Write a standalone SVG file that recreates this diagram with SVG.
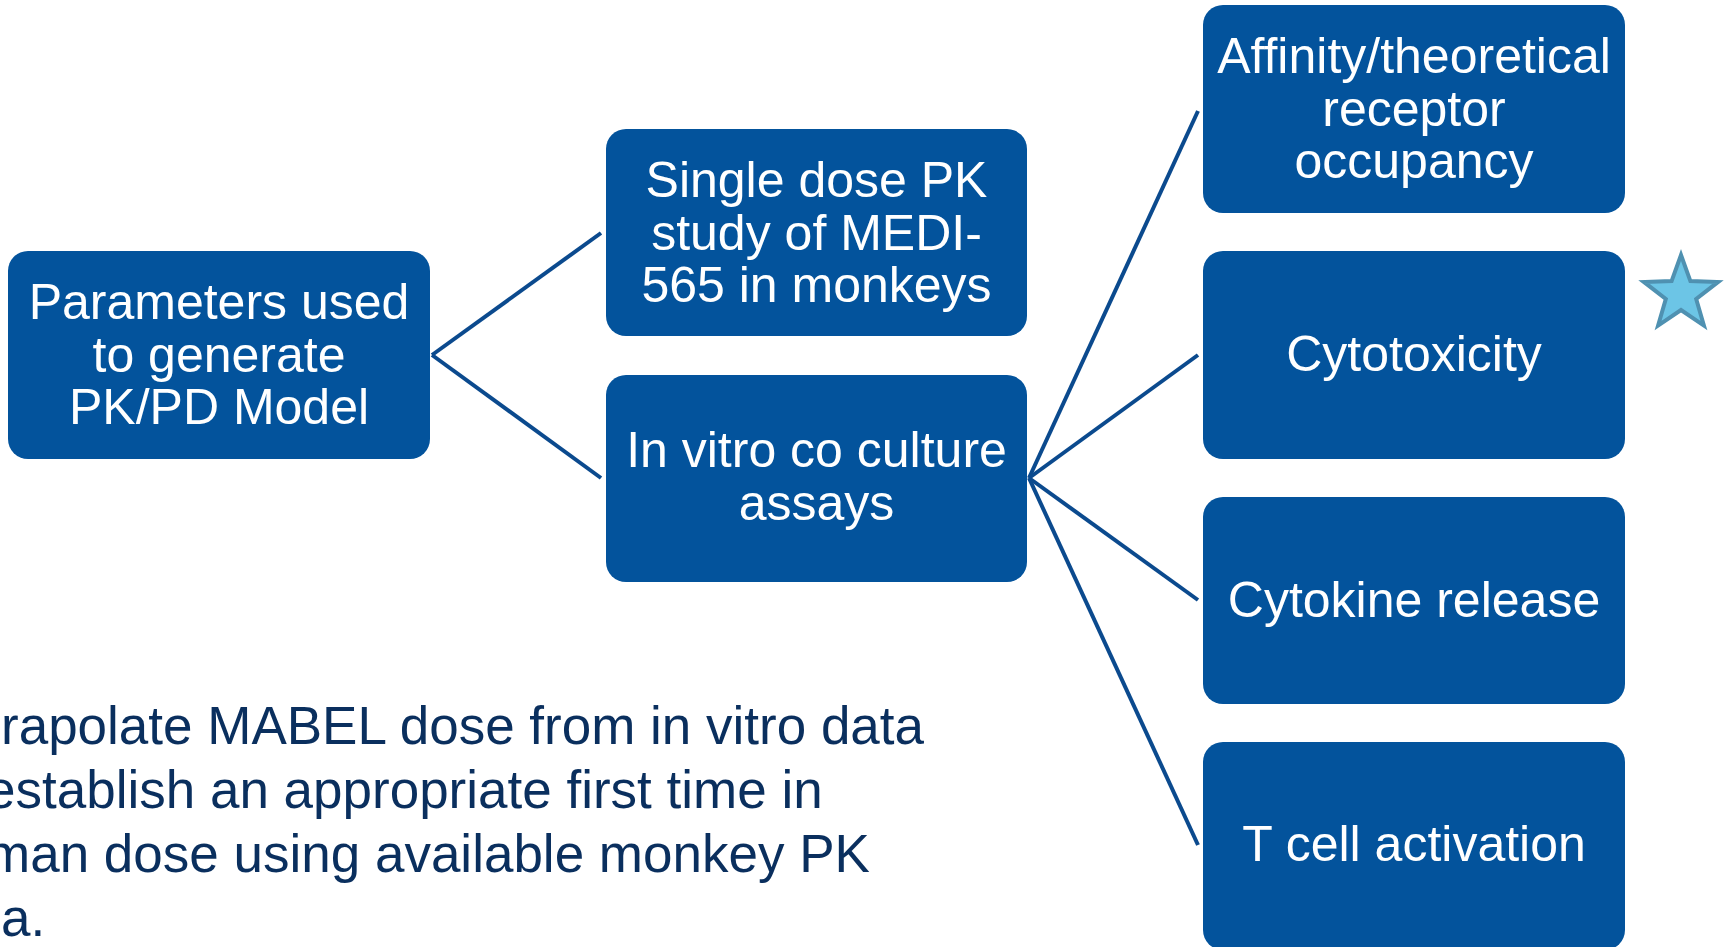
<svg xmlns="http://www.w3.org/2000/svg" width="1729" height="947" viewBox="0 0 1729 947">
  <style>
    .box { fill: #03539c; }
    .lbl { font-family: "Liberation Sans", Arial, sans-serif; font-size: 50px; fill: #ffffff; text-anchor: middle; }
    .conn { stroke: #0b4a8e; stroke-width: 4; fill: none; stroke-linecap: butt; }
    .note { font-family: "Liberation Sans", Arial, sans-serif; font-size: 53px; fill: #0a2f5e; }
  </style>
  <rect width="1729" height="947" fill="#ffffff"/>
  <g id="connectors">
    <line class="conn" x1="432" y1="355" x2="601" y2="233"/>
    <line class="conn" x1="432" y1="355" x2="601" y2="478"/>
    <line class="conn" x1="1029" y1="478" x2="1198" y2="111"/>
    <line class="conn" x1="1029" y1="478" x2="1198" y2="355"/>
    <line class="conn" x1="1029" y1="478" x2="1198" y2="600"/>
    <line class="conn" x1="1029" y1="478" x2="1198" y2="845"/>
  </g>
  <g id="node-params">
    <rect class="box" x="8" y="251" width="422" height="208" rx="20"/>
    <text class="lbl"><tspan x="219" y="319">Parameters used</tspan><tspan x="219" y="372">to generate</tspan><tspan x="219" y="424">PK/PD Model</tspan></text>
  </g>
  <g id="node-singledose">
    <rect class="box" x="606" y="129" width="421" height="207" rx="20"/>
    <text class="lbl"><tspan x="816.5" y="197">Single dose PK</tspan><tspan x="816.5" y="249.5">study of MEDI-</tspan><tspan x="816.5" y="302">565 in monkeys</tspan></text>
  </g>
  <g id="node-invitro">
    <rect class="box" x="606" y="375" width="421" height="207" rx="20"/>
    <text class="lbl"><tspan x="816.5" y="467">In vitro co culture</tspan><tspan x="816.5" y="520">assays</tspan></text>
  </g>
  <g id="node-affinity">
    <rect class="box" x="1203" y="5" width="422" height="208" rx="20"/>
    <text class="lbl"><tspan x="1414" y="73">Affinity/theoretical</tspan><tspan x="1414" y="125.5">receptor</tspan><tspan x="1414" y="178">occupancy</tspan></text>
  </g>
  <g id="node-cytotoxicity">
    <rect class="box" x="1203" y="251" width="422" height="208" rx="20"/>
    <text class="lbl" x="1414" y="371">Cytotoxicity</text>
  </g>
  <g id="node-cytokine">
    <rect class="box" x="1203" y="497" width="422" height="207" rx="20"/>
    <text class="lbl" x="1414" y="617">Cytokine release</text>
  </g>
  <g id="node-tcell">
    <rect class="box" x="1203" y="742" width="422" height="208" rx="20"/>
    <text class="lbl" x="1414" y="861">T cell activation</text>
  </g>
  <g id="star">
    <polygon points="1681,255 1690.4,281.06 1718.1,281.95 1696.2,298.94 1703.9,325.55 1681,310 1658.1,325.55 1665.8,298.94 1643.9,281.95 1671.6,281.06" fill="#6cc5e6" stroke="#4f91b1" stroke-width="4" stroke-linejoin="miter"/>
  </g>
  <g id="note">
    <text class="note"><tspan x="1" y="744">rapolate MABEL dose from in vitro data</tspan><tspan x="-14" y="808">establish an appropriate first time in</tspan><tspan x="-14" y="872">man dose using available monkey PK</tspan><tspan x="1" y="936">a.</tspan></text>
  </g>
</svg>
